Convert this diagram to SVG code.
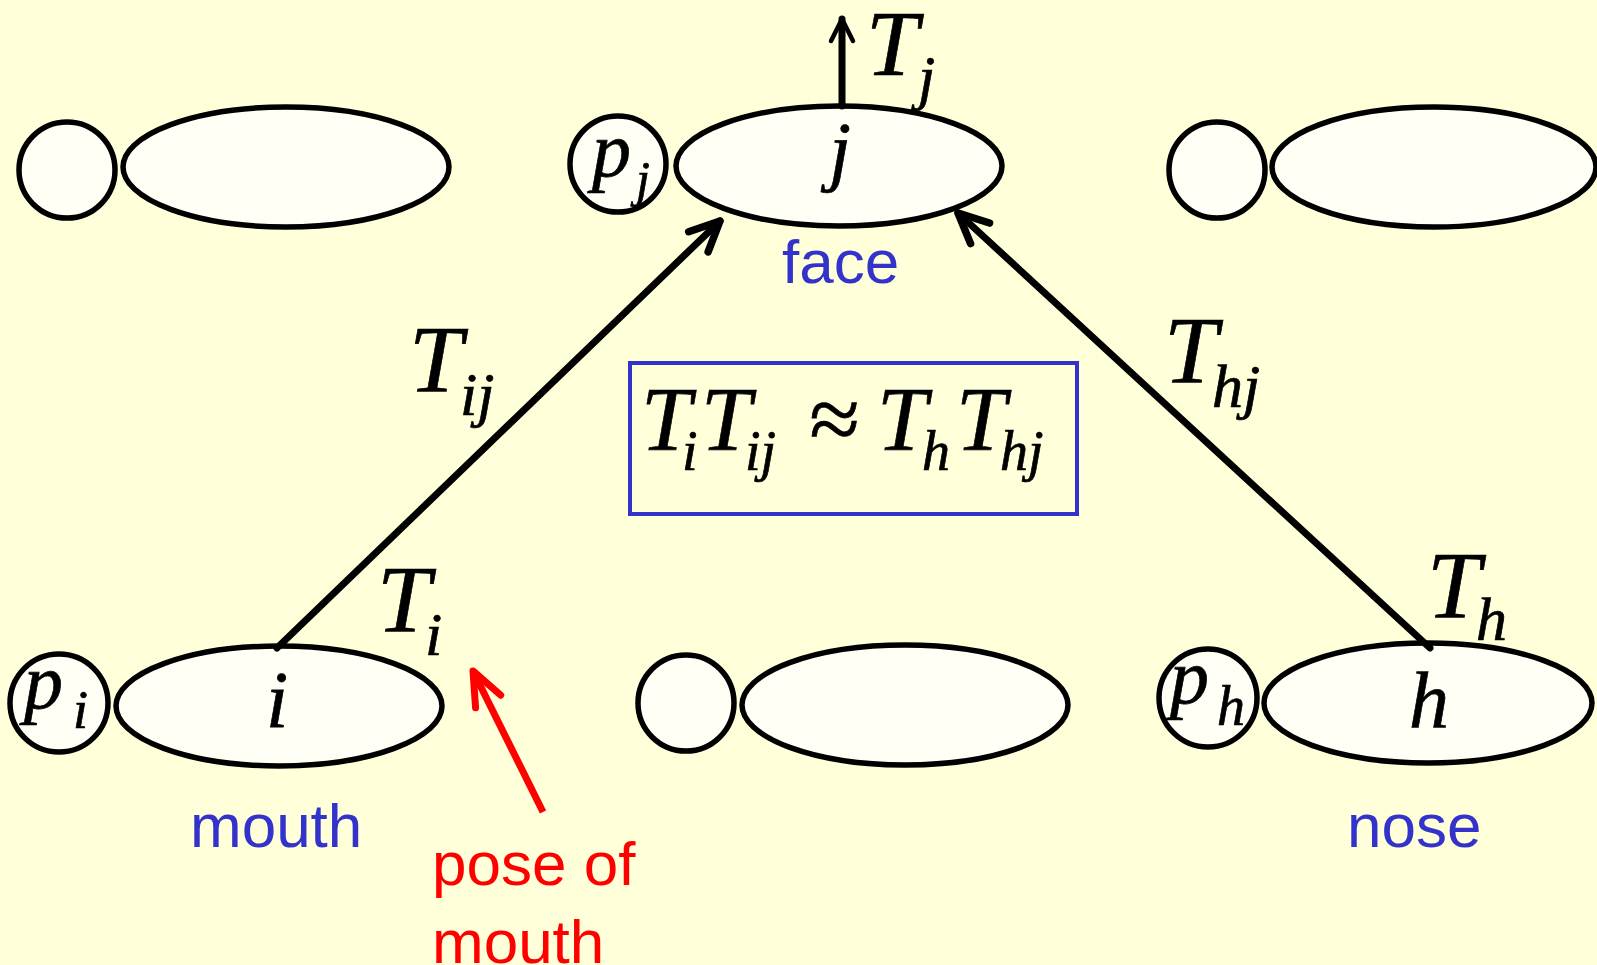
<svg xmlns="http://www.w3.org/2000/svg" width="1597" height="965" viewBox="0 0 1597 965">
<style>
.nd{fill:#FFFFF6;stroke:#000;stroke-width:5.5}
.m{font-family:"Liberation Serif","Times New Roman",serif;font-style:italic;fill:#000;stroke:#000;stroke-width:0.7}
.lb{font-family:"Liberation Sans",Arial,sans-serif;font-size:62px}
.blue{fill:#3333CC}
.red{fill:#FF0000}
.cn{fill:none;stroke:#000;stroke-width:7;stroke-linecap:round}
</style>
<defs>
<marker id="ah" markerUnits="userSpaceOnUse" viewBox="-40 -20 50 40" refX="0" refY="0" markerWidth="50" markerHeight="40" orient="auto">
<path d="M-30,-14 L0,0 L-30,14" fill="none" stroke="#000" stroke-width="7.5" stroke-linecap="round" stroke-linejoin="round"/>
</marker>
<marker id="ahs" markerUnits="userSpaceOnUse" viewBox="-30 -15 40 30" refX="0" refY="0" markerWidth="40" markerHeight="30" orient="auto">
<path d="M-22,-11 L0,0 L-22,11" fill="none" stroke="#000" stroke-width="4.5" stroke-linecap="round" stroke-linejoin="round"/>
</marker>
<marker id="ahr" markerUnits="userSpaceOnUse" viewBox="-40 -20 50 40" refX="0" refY="0" markerWidth="50" markerHeight="40" orient="auto">
<path d="M-34,-14 L0,0 L-34,14" fill="none" stroke="#FF0000" stroke-width="7" stroke-linecap="round" stroke-linejoin="round"/>
</marker>
</defs>
<rect width="1597" height="965" fill="#FFFFDA"/>

<g id="node-tl">
<circle class="nd" cx="67" cy="170" r="48"/>
<ellipse class="nd" cx="286" cy="167" rx="163" ry="60"/>
</g>
<g id="node-j">
<circle class="nd" cx="618" cy="164" r="48"/>
<ellipse class="nd" cx="839" cy="166" rx="163" ry="60"/>
<text class="m" x="592" y="176" font-size="78">p</text>
<text class="m" x="636" y="196" font-size="50">j</text>
<text class="m" x="840" y="176" font-size="78" text-anchor="middle">j</text>
</g>
<g id="node-tr">
<circle class="nd" cx="1217" cy="170" r="48"/>
<ellipse class="nd" cx="1434" cy="167" rx="162" ry="60"/>
</g>
<g id="node-i">
<circle class="nd" cx="59" cy="703" r="49"/>
<ellipse class="nd" cx="279" cy="706" rx="163" ry="60"/>
<text class="m" x="24" y="708" font-size="78">p</text>
<text class="m" x="73" y="728" font-size="54">i</text>
<text class="m" x="277" y="727" font-size="80" text-anchor="middle">i</text>
</g>
<g id="node-bm">
<circle class="nd" cx="686" cy="703" r="48"/>
<ellipse class="nd" cx="905" cy="705" rx="163" ry="60"/>
</g>
<g id="node-h">
<circle class="nd" cx="1208" cy="698" r="49"/>
<ellipse class="nd" cx="1428" cy="703" rx="164" ry="60"/>
<text class="m" x="1170" y="703" font-size="78">p</text>
<text class="m" x="1217" y="725" font-size="56">h</text>
<text class="m" x="1429" y="727" font-size="80" text-anchor="middle">h</text>
</g>

<g id="connectors">
<line class="cn" x1="277" y1="648" x2="720" y2="221" marker-end="url(#ah)"/>
<line class="cn" x1="1430" y1="648" x2="958" y2="213" marker-end="url(#ah)"/>
<line class="cn" x1="842" y1="106" x2="842" y2="19" stroke-width="4.5" marker-end="url(#ahs)"/>
<line x1="543" y1="812" x2="473" y2="671" stroke="#FF0000" stroke-width="7" stroke-linecap="butt" marker-end="url(#ahr)"/>
</g>

<g id="labels">
<text class="m" x="866" y="75" font-size="94">T</text>
<text class="m" x="918" y="98" font-size="62">j</text>
<text class="m" x="409" y="392" font-size="96">T</text>
<text class="m" x="460" y="415" font-size="62">ij</text>
<text class="m" x="1164" y="383" font-size="96">T</text>
<text class="m" x="1212" y="407" font-size="62">hj</text>
<text class="m" x="377" y="632" font-size="96">T</text>
<text class="m" x="425" y="655" font-size="62">i</text>
<text class="m" x="1427" y="618" font-size="96">T</text>
<text class="m" x="1476" y="640" font-size="62">h</text>
<text class="lb blue" x="782" y="283">face</text>
<text class="lb blue" x="190" y="847">mouth</text>
<text class="lb blue" x="1347" y="847">nose</text>
<text class="lb red" x="432" y="885">pose of</text>
<text class="lb red" x="432" y="963">mouth</text>
</g>

<g id="formula">
<rect x="630" y="363" width="447" height="151" fill="none" stroke="#3333CC" stroke-width="4"/>
<text class="m" x="641" y="450" font-size="90">T</text>
<text class="m" x="682" y="470" font-size="56">i</text>
<text class="m" x="701" y="450" font-size="90">T</text>
<text class="m" x="745" y="470" font-size="56">ij</text>
<text class="m" x="808" y="450" font-size="92" font-style="normal">≈</text>
<text class="m" x="877" y="450" font-size="90">T</text>
<text class="m" x="922" y="470" font-size="56">h</text>
<text class="m" x="956" y="450" font-size="90">T</text>
<text class="m" x="1000" y="470" font-size="56">hj</text>
</g>
</svg>
